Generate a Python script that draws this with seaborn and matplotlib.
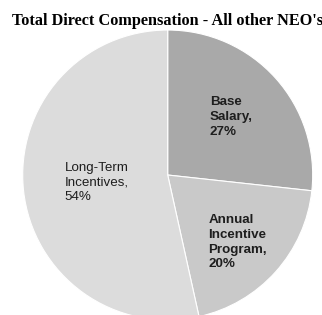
import matplotlib
matplotlib.use("Agg")
import matplotlib.pyplot as plt
import seaborn as sns

sns.set_theme(style="white")

labels = ["Base\nSalary,\n27%", "Annual\nIncentive\nProgram,\n20%", "Long-Term\nIncentives,\n54%"]
shares = [27, 20, 54]
colors = ["#a9a9a9", "#c9c9c9", "#dcdcdc"]
bold = [True, True, False]
# label anchor (left edge, vertical centre) in units of the pie radius
label_pos = [(0.29, 0.40), (0.28, -0.465), (-0.71, -0.05)]

fig = plt.figure(figsize=(3.22, 3.15), dpi=100)
ax = fig.add_axes([0.0705, -0.0159, 0.9006, 0.9206])

ax.pie(shares, colors=colors, startangle=90, counterclock=False, radius=1,
       wedgeprops=dict(edgecolor="white", linewidth=0.8))
ax.set_xlim(-1, 1)
ax.set_ylim(-1, 1)
ax.set_aspect("equal")
ax.axis("off")

for lab, (x, y), b in zip(labels, label_pos, bold):
    ax.text(x, y, lab, ha="left", va="center", fontsize=9.6,
            family="Liberation Sans", fontweight="bold" if b else "normal",
            color="#1e1e1e", linespacing=1.3)

fig.text(0.52, 0.933, "Total Direct Compensation - All other NEO's",
         ha="center", va="center", fontsize=11.7, fontweight="bold",
         family="Liberation Serif", color="black")

fig.savefig("out.png", dpi=100, facecolor="white")
